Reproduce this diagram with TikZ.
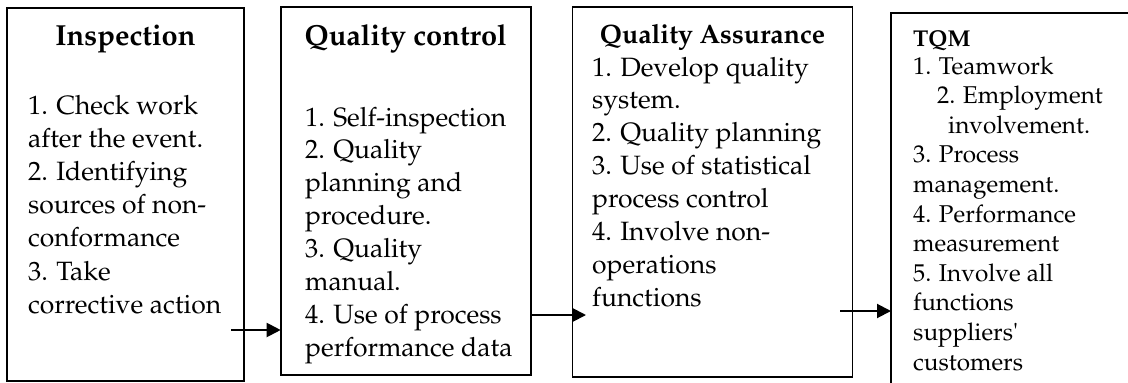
\documentclass[tikz,border=0pt]{standalone}
\usepackage[T1]{fontenc}
\usepackage{mathpazo}
\usetikzlibrary{arrows,arrows.meta,calc}

\tikzset{
  stage/.style={draw, line width=1.6pt, inner sep=0pt, outer sep=0pt, anchor=north west},
  head/.style={font=\fontsize{#1}{#1}\bfseries\selectfont, inner sep=0pt, anchor=base},
  items/.style={align=left, inner sep=0pt, anchor=base west, font=\fontsize{26.5}{#1}\selectfont},
  flow/.style={-{Triangle[length=14pt,width=14pt]}, line width=2pt},
}

\begin{document}
\begin{tikzpicture}[x=1pt,y=-1pt]

\useasboundingbox (0,0) rectangle (1128,383);
\clip (0,0) rectangle (1128,383);

\node[stage, minimum width=237, minimum height=373] (insp) at (7,8) {};
\node[stage, minimum width=250, minimum height=368] (qc) at (280.7,7) {};
\node[stage, minimum width=280, minimum height=370] (qa) at (572.5,7) {};
\node[stage, minimum width=400, minimum height=420] (tqm) at (891,12.7) {};

% the list nodes sit on the baseline of their last line
\node[head=29] (inspT) at (125.5,45.7) {Inspection};
\node[items=33.2] (inspL) at (28,313.2) {1. Check work\\after the event.\\2. Identifying\\sources of non-\\conformance\\3. Take\\corrective action};

\node[head=29] (qcT) at (405.7,45) {Quality control};
\node[items=32.9] (qcL) at (305,356.3) {1. Self-inspection\\2. Quality\\planning and\\procedure.\\3. Quality\\manual.\\4. Use of process\\performance data};

\node[head=26.6] (qaT) at (712.5,43.3) {Quality Assurance};
\node[items=32.9] (qaL) at (592,306.3) {1. Develop quality\\system.\\2. Quality planning\\3. Use of statistical\\process control\\4. Involve non-\\operations\\functions};

\node[head=22.9, anchor=base west] (tqmT) at (913,46) {TQM};
\node[items=29.6, font=\fontsize{24.3}{29.6}\selectfont] (tqmL) at (913,370) {1. Teamwork\\\hspace*{24pt}2. Employment\\\hspace*{35pt}involvement.\\3. Process\\management.\\4. Performance\\measurement\\5. Involve all\\functions\\suppliers\textquotesingle\\customers};

\coordinate (a1) at (231,330);
\coordinate (a2) at (586,315);
\coordinate (a3) at (840,311);

\path[flow]
	(a1) edge (a1 -| qc.west)
	(qc.east |- a2) edge (a2)
	(a3) edge (a3 -| tqm.west);

\end{tikzpicture}
\end{document}
